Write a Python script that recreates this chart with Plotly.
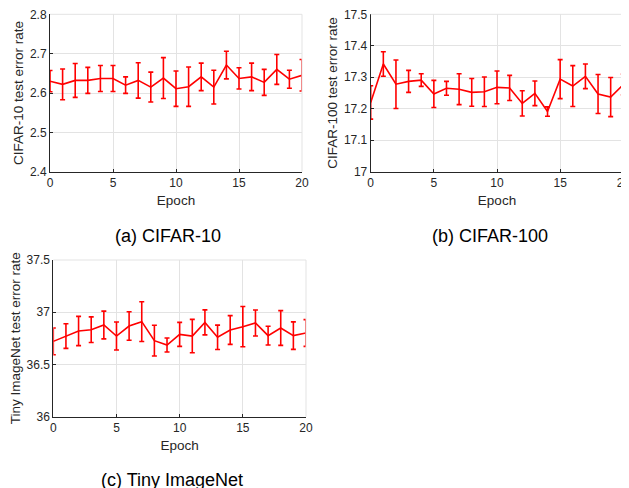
import plotly.graph_objects as go

epochs = list(range(21))
x_ticks = [0, 5, 10, 15, 20]

cifar10_mean = [2.630, 2.622, 2.632, 2.632, 2.637, 2.637, 2.620, 2.632, 2.615, 2.638, 2.611,
                2.616, 2.641, 2.615, 2.671, 2.637, 2.641, 2.627, 2.660, 2.635, 2.645]
cifar10_err = [0.027, 0.039, 0.043, 0.033, 0.033, 0.033, 0.021, 0.045, 0.038, 0.052, 0.045,
               0.050, 0.035, 0.043, 0.035, 0.027, 0.035, 0.033, 0.038, 0.023, 0.040]
cifar10_ticks = [2.4, 2.5, 2.6, 2.7, 2.8]

cifar100_mean = [17.220, 17.342, 17.278, 17.287, 17.291, 17.247, 17.265, 17.262, 17.252, 17.254, 17.268,
                 17.266, 17.217, 17.249, 17.191, 17.294, 17.272, 17.303, 17.247, 17.237, 17.277]
cifar100_err = [0.053, 0.039, 0.077, 0.035, 0.020, 0.043, 0.022, 0.049, 0.044, 0.047, 0.052,
                0.040, 0.040, 0.039, 0.015, 0.062, 0.065, 0.039, 0.062, 0.062, 0.033]
cifar100_ticks = [17.0, 17.1, 17.2, 17.3, 17.4, 17.5]
cifar100_ticktext = ["17", "17.1", "17.2", "17.3", "17.4", "17.5"]

tiny_mean = [36.721, 36.772, 36.820, 36.833, 36.878, 36.772, 36.868, 36.910, 36.728, 36.686, 36.788,
             36.772, 36.903, 36.760, 36.830, 36.862, 36.897, 36.776, 36.849, 36.776, 36.801]
tiny_err = [0.128, 0.118, 0.140, 0.123, 0.133, 0.134, 0.136, 0.190, 0.147, 0.067, 0.115,
            0.160, 0.120, 0.117, 0.138, 0.193, 0.125, 0.090, 0.166, 0.132, 0.128]
tiny_ticks = [36.0, 36.5, 37.0, 37.5]
tiny_ticktext = ["36", "36.5", "37", "37.5"]

panels = [
    ("CIFAR-10 test error rate", cifar10_mean, cifar10_err, cifar10_ticks,
     [str(v) for v in cifar10_ticks], "(a) CIFAR-10"),
    ("CIFAR-100 test error rate", cifar100_mean, cifar100_err, cifar100_ticks,
     cifar100_ticktext, "(b) CIFAR-100"),
    ("Tiny ImageNet test error rate", tiny_mean, tiny_err, tiny_ticks,
     tiny_ticktext, "(c) Tiny ImageNet"),
]

# page body has an 8px margin, so the figure starts at (8, 8) in the window
OFF = 8
W, H = 629 - OFF, 488 - OFF
# plot area boxes in window pixels: (left, right, top, bottom)
boxes = [(50, 302, 14.3, 171.7), (370.7, 623.3, 14.3, 171.7), (53.3, 306, 260, 416.7)]
captions_pos = [(168, 236), (490, 236), (171.7, 480)]

FONT = "Liberation Sans, Arial, Helvetica, sans-serif"
AX = "#262626"
GRID = "#e3e3e3"

fig = go.Figure()
layout = dict(width=W, height=H, margin=dict(l=0, r=0, t=0, b=0, autoexpand=False),
              paper_bgcolor="white", plot_bgcolor="white", showlegend=False,
              font=dict(family=FONT, size=12, color=AX))
annotations = []
shapes = []

for i, (ytitle, m, e, yt, ytt, cap) in enumerate(panels):
    n = "" if i == 0 else str(i + 1)
    l, r, t, b = [v - OFF for v in boxes[i]]
    fig.add_trace(go.Scatter(
        x=epochs, y=m, mode="lines", xaxis="x" + n, yaxis="y" + n,
        line=dict(color="#ff0000", width=1.6),
        error_y=dict(type="data", array=e, symmetric=True, color="#ff0000", thickness=1.6, width=2.5),
        cliponaxis=False,
    ))
    layout["xaxis" + n] = dict(
        domain=[l / W, r / W], anchor="y" + n, range=[x_ticks[0], x_ticks[-1]],
        tickmode="array", tickvals=x_ticks,
        showgrid=True, gridcolor=GRID, gridwidth=1, zeroline=False,
        showline=True, linecolor=AX, linewidth=1, ticks="inside", ticklen=3, tickcolor=AX,
        tickfont=dict(size=12, color=AX, family=FONT), ticklabeloverflow="allow",
        title=dict(text="Epoch", font=dict(size=13.5, color=AX, family=FONT), standoff=6),
    )
    layout["yaxis" + n] = dict(
        domain=[1 - b / H, 1 - t / H], anchor="x" + n, range=[yt[0], yt[-1]],
        tickmode="array", tickvals=yt, ticktext=ytt,
        showgrid=True, gridcolor=GRID, gridwidth=1, zeroline=False,
        showline=True, linecolor=AX, linewidth=1, ticks="inside", ticklen=3, tickcolor=AX,
        tickfont=dict(size=12, color=AX, family=FONT), ticklabeloverflow="allow",
        title=dict(text=ytitle, font=dict(size=13.5, color=AX, family=FONT), standoff=3),
    )
    # light top and right box edges
    shapes.append(dict(type="line", xref="x" + n + " domain", yref="y" + n + " domain",
                       x0=0, x1=1, y0=1, y1=1, line=dict(color=GRID, width=1)))
    shapes.append(dict(type="line", xref="x" + n + " domain", yref="y" + n + " domain",
                       x0=1, x1=1, y0=0, y1=1, line=dict(color=GRID, width=1)))
    cx, cy = captions_pos[i]
    annotations.append(dict(text=cap, x=(cx - OFF) / W, y=1 - (cy - OFF) / H, xref="paper", yref="paper",
                            xanchor="center", yanchor="middle", showarrow=False,
                            font=dict(size=18, color="black", family=FONT)))

layout["annotations"] = annotations
layout["shapes"] = shapes
fig.update_layout(**layout)
fig.write_html("out.html")
